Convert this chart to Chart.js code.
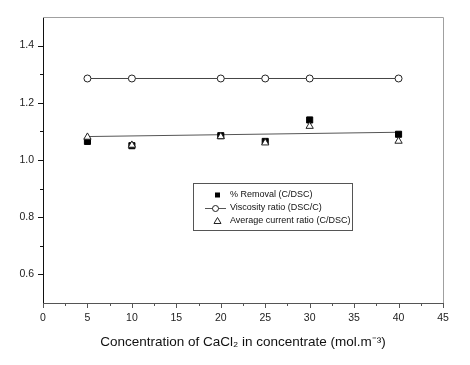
<!DOCTYPE html>
<html><head><meta charset="utf-8">
<script src="https://cdn.jsdelivr.net/npm/chart.js@4.4.1/dist/chart.umd.min.js"></script>
<style>html,body{margin:0;padding:0;background:#fff}</style>
</head><body>
<canvas id="c" width="470" height="365"></canvas>
<script>
const concentrations = [5, 10, 20, 25, 30, 40];
const removalRatio   = [1.065, 1.05, 1.085, 1.065, 1.14, 1.09];
const viscosityRatio = [1.285, 1.285, 1.285, 1.285, 1.285, 1.285];
const currentRatio   = [1.08, 1.052, 1.082, 1.06, 1.118, 1.066];
const fitX = [5, 40];
const fitY = [1.082, 1.097];
const xTicks = [0, 5, 10, 15, 20, 25, 30, 35, 40, 45];
const xMinorTicks = [2.5, 7.5, 12.5, 17.5, 22.5, 27.5, 32.5, 37.5, 42.5];
const yTicks = [0.6, 0.8, 1.0, 1.2, 1.4];
const yMinorTicks = [0.7, 0.9, 1.1, 1.3];
const seriesNames = ['% Removal (C/DSC)', 'Viscosity ratio (DSC/C)', 'Average current ratio (C/DSC)'];
const xTitle = 'Concentration of CaCl\u2082 in concentrate (mol.m\u207B\u00B3)';

const pts = (xs, ys) => xs.map((x, i) => ({x, y: ys[i]}));

const framePlugin = {
  id: 'frame',
  beforeDatasetsDraw(chart) {
    const {ctx, chartArea: a, scales: {x, y}} = chart;
    ctx.save();
    ctx.lineWidth = 1;
    ctx.strokeStyle = '#a0a0a0';
    ctx.beginPath();
    ctx.moveTo(a.left, a.top + 0.5); ctx.lineTo(a.right + 0.5, a.top + 0.5);
    ctx.lineTo(a.right + 0.5, a.bottom);
    ctx.stroke();
    ctx.strokeStyle = '#555';
    ctx.beginPath();
    xTicks.forEach(v => { const p = Math.round(x.getPixelForValue(v)) + 0.5; ctx.moveTo(p, a.bottom); ctx.lineTo(p, a.bottom + 5); });
    xMinorTicks.forEach(v => { const p = Math.round(x.getPixelForValue(v)) + 0.5; ctx.moveTo(p, a.bottom); ctx.lineTo(p, a.bottom + 3); });
    ctx.stroke();
    ctx.strokeStyle = '#111';
    ctx.beginPath();
    yTicks.forEach(v => { const p = Math.round(y.getPixelForValue(v)) + 0.5; ctx.moveTo(a.left, p); ctx.lineTo(a.left - 5, p); });
    yMinorTicks.forEach(v => { const p = Math.round(y.getPixelForValue(v)) + 0.5; ctx.moveTo(a.left, p); ctx.lineTo(a.left - 3, p); });
    ctx.stroke();
    ctx.restore();
  },
  afterDraw(chart) {
    const {ctx} = chart;
    const bx = 193.5, by = 183.5, bw = 159, bh = 47;
    ctx.save();
    ctx.fillStyle = '#fff';
    ctx.fillRect(bx, by, bw, bh);
    ctx.strokeStyle = '#555';
    ctx.lineWidth = 1;
    ctx.strokeRect(bx, by, bw, bh);
    const rows = [195, 208, 221];
    ctx.font = '9px "Liberation Sans", Arial, sans-serif';
    ctx.fillStyle = '#111';
    ctx.textBaseline = 'middle';
    ctx.textAlign = 'left';
    seriesNames.forEach((n, i) => ctx.fillText(n, 230, rows[i]));
    ctx.fillStyle = '#000';
    ctx.fillRect(215, rows[0] - 2.5, 5, 5);
    ctx.strokeStyle = '#555';
    ctx.beginPath(); ctx.moveTo(205, rows[1] + 0.5); ctx.lineTo(226, rows[1] + 0.5); ctx.stroke();
    ctx.fillStyle = '#fff'; ctx.strokeStyle = '#222';
    ctx.beginPath(); ctx.arc(215.5, rows[1] + 0.5, 3, 0, Math.PI * 2); ctx.fill(); ctx.stroke();
    ctx.beginPath();
    ctx.moveTo(217.5, rows[2] - 3.5); ctx.lineTo(221, rows[2] + 2.5); ctx.lineTo(214, rows[2] + 2.5); ctx.closePath();
    ctx.fill(); ctx.stroke();
    ctx.restore();
  }
};

new Chart(document.getElementById('c'), {
  type: 'scatter',
  data: {
    datasets: [
      { label: seriesNames[2], data: pts(concentrations, currentRatio), pointStyle: 'triangle', pointRadius: 4.2,
        backgroundColor: '#fff', borderColor: '#222', borderWidth: 1, order: 0 },
      { label: seriesNames[0], data: pts(concentrations, removalRatio), pointStyle: 'rect', pointRadius: 4.3,
        backgroundColor: '#000', borderColor: '#000', borderWidth: 1, order: 1 },
      { label: seriesNames[1], data: pts(concentrations, viscosityRatio), pointStyle: 'circle', pointRadius: 3.5,
        backgroundColor: '#fff', borderColor: '#444', pointBorderColor: '#222', borderWidth: 1, showLine: true, order: 2 },
      { label: 'fit', data: pts(fitX, fitY), showLine: true, pointRadius: 0, borderColor: '#555', borderWidth: 1, order: 3 }
    ]
  },
  options: {
    responsive: false,
    animation: false,
    layout: { padding: { top: 17, right: 27, left: 0, bottom: 0 } },
    plugins: { legend: { display: false }, tooltip: { enabled: false } },
    scales: {
      x: {
        type: 'linear', min: 0, max: 45,
        afterFit: s => { s.height = 62; },
        afterBuildTicks: s => { s.ticks = xTicks.map(v => ({value: v})); },
        grid: { drawOnChartArea: false, drawTicks: false },
        border: { color: '#555', width: 1 },
        ticks: { autoSkip: false, maxRotation: 0, padding: 9, color: '#222',
          font: { family: '"Liberation Sans", Arial, sans-serif', size: 10.5 },
          callback: v => String(v) },
        title: { display: true, text: xTitle, color: '#111',
          font: { family: '"Liberation Sans", Arial, sans-serif', size: 13.5 },
          padding: { top: 0, bottom: 15 } }
      },
      y: {
        type: 'linear', min: 0.5, max: 1.5,
        afterFit: s => { s.width = 43; },
        afterBuildTicks: s => { s.ticks = yTicks.map(v => ({value: v})); },
        grid: { drawOnChartArea: false, drawTicks: false },
        border: { color: '#111', width: 1 },
        ticks: { autoSkip: false, padding: 9, color: '#222',
          font: { family: '"Liberation Sans", Arial, sans-serif', size: 10.5 },
          callback: v => v.toFixed(1) }
      }
    }
  },
  plugins: [framePlugin]
});
</script>
</body></html>
